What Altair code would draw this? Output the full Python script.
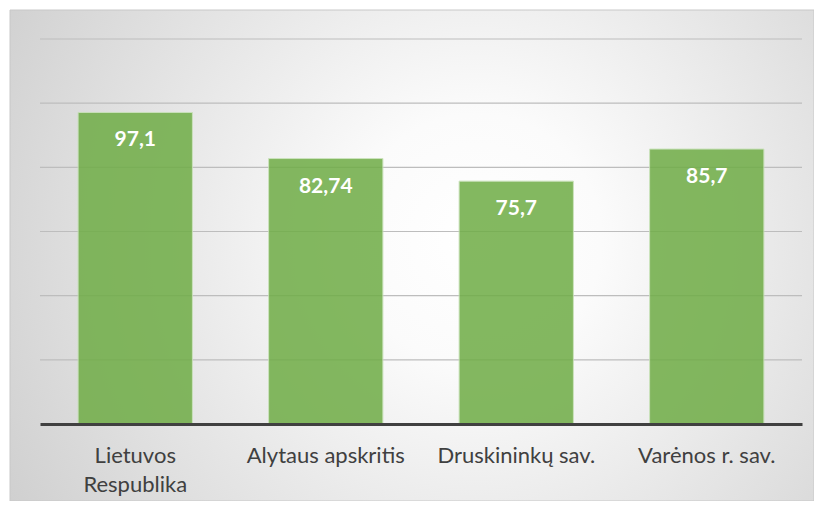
import altair as alt
import pandas as pd

categories = ["Lietuvos Respublika", "Alytaus apskritis", "Druskininkų sav.", "Varėnos r. sav."]
values = [97.1, 82.74, 75.7, 85.7]
grid_values = [20, 40, 60, 80, 100, 120]

df = pd.DataFrame({"cat": categories, "v": values})
gdf = pd.DataFrame({"g": grid_values})
bgdf = pd.DataFrame({"a": [0]})

W, H = 762, 385
FONT = "Lato"

yscale = alt.Scale(domain=[0, 120], nice=False, zero=True)
xscale = alt.Scale(paddingInner=0.4, paddingOuter=0.2)

bg = alt.Chart(bgdf).mark_rect(
    stroke="#c8c8c8", strokeWidth=1,
    color=alt.Gradient(
        gradient="radial",
        stops=[alt.GradientStop(color="#ffffff", offset=0),
               alt.GradientStop(color="#fbfbfb", offset=0.2),
               alt.GradientStop(color="#c6c6c6", offset=1)],
        x1=0.58, y1=0.48, r1=0, x2=0.58, y2=0.48, r2=0.78,
    ),
).encode(
    x=alt.value(-30), x2=alt.value(W + 12),
    y=alt.value(-29), y2=alt.value(H + 77),
)

grid = alt.Chart(gdf).mark_rule(color="#bdbdbd", strokeWidth=1.2).encode(
    y=alt.Y("g:Q", scale=yscale, axis=None),
    x=alt.value(0), x2=alt.value(W),
)

base = alt.Chart(df).transform_calculate(
    lbl="replace(toString(datum.v), '.', ',')"
)

bars = base.mark_bar(
    color="#70AD47", opacity=0.86, stroke="#c5e0b4", strokeWidth=1
).encode(
    x=alt.X("cat:N", sort=categories, scale=xscale, title=None,
            axis=alt.Axis(
                labelAngle=0, ticks=False, domain=True, domainColor="#404040",
                domainWidth=3, labelColor="#404040", labelFont=FONT,
                labelFontSize=22, labelPadding=21, labelLineHeight=29,
                labelBaseline="top", grid=False, labelLimit=300, zindex=2,
                labelExpr="datum.label == 'Lietuvos Respublika' ? ['Lietuvos', 'Respublika'] : datum.label",
            )),
    y=alt.Y("v:Q", scale=yscale, axis=None),
)

text = base.mark_text(
    color="white", font=FONT, fontSize=21, fontWeight="bold",
    baseline="middle", dy=28,
).encode(
    x=alt.X("cat:N", sort=categories, scale=xscale),
    y=alt.Y("v:Q", scale=yscale),
    text="lbl:N",
)

chart = alt.layer(bg, grid, bars, text).properties(
    width=W, height=H,
    padding={"left": 32, "top": 31, "right": 12, "bottom": 77},
    autosize=alt.AutoSizeParams(type="none"),
    background="white",
).configure_view(stroke=None)

chart.save("out.html", embed_options={"renderer": "svg", "actions": False})
